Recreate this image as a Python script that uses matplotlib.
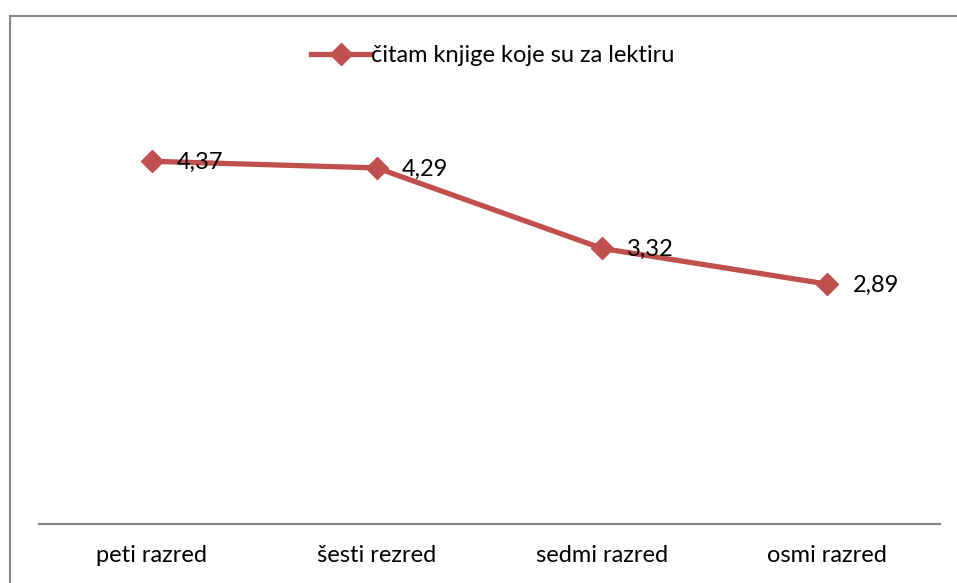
import matplotlib.pyplot as plt
from matplotlib.lines import Line2D

categories = ["peti razred", "šesti rezred", "sedmi razred", "osmi razred"]
values = [4.37, 4.29, 3.32, 2.89]
labels = ["4,37", "4,29", "3,32", "2,89"]
series_name = "čitam knjige koje su za lektiru"

W, H = 957, 583
red = "#C0504D"
gray = "#868686"
plt.rcParams['font.family'] = ['Lato', 'DejaVu Sans']
fs = 17

fig = plt.figure(figsize=(W / 100, H / 100), dpi=100)
# axes box in pixels: x 39..940, y 109..524 (from top)
ax = fig.add_axes([39 / W, (H - 524) / H, 901 / W, 415 / H])

x = list(range(len(categories)))
ax.plot(x, values, color=red, lw=3.8, marker="D", ms=11, mec=red, mfc=red,
        label=series_name, solid_joinstyle="round")
for xi, v, t in zip(x, values, labels):
    ax.annotate(t, (xi, v), xytext=(18, -1), textcoords="offset points",
                ha="left", va="center", fontsize=fs, color="black")

ax.set_xlim(-0.5, 3.5)
ax.set_ylim(0, 5)
ax.set_xticks(x)
ax.set_xticklabels(categories, fontsize=fs)
ax.tick_params(axis="x", length=0, pad=15)
ax.set_yticks([])
for s in ["top", "right", "left"]:
    ax.spines[s].set_visible(False)
ax.spines["bottom"].set_color(gray)
ax.spines["bottom"].set_linewidth(1.6)

leg = fig.legend(loc="center", bbox_to_anchor=(493 / W, 1 - 56 / H), frameon=False,
                 fontsize=fs, handlelength=2.5, handletextpad=0.05)

# outer chart border (top and left edges visible)
fig.add_artist(Line2D([9.5 / W, 9.5 / W], [0, 1 - 15.5 / H], transform=fig.transFigure,
                      color=gray, lw=1.5))
fig.add_artist(Line2D([9.5 / W, 1], [1 - 15.5 / H, 1 - 15.5 / H], transform=fig.transFigure,
                      color=gray, lw=1.5))

fig.savefig("out.png", dpi=100)
